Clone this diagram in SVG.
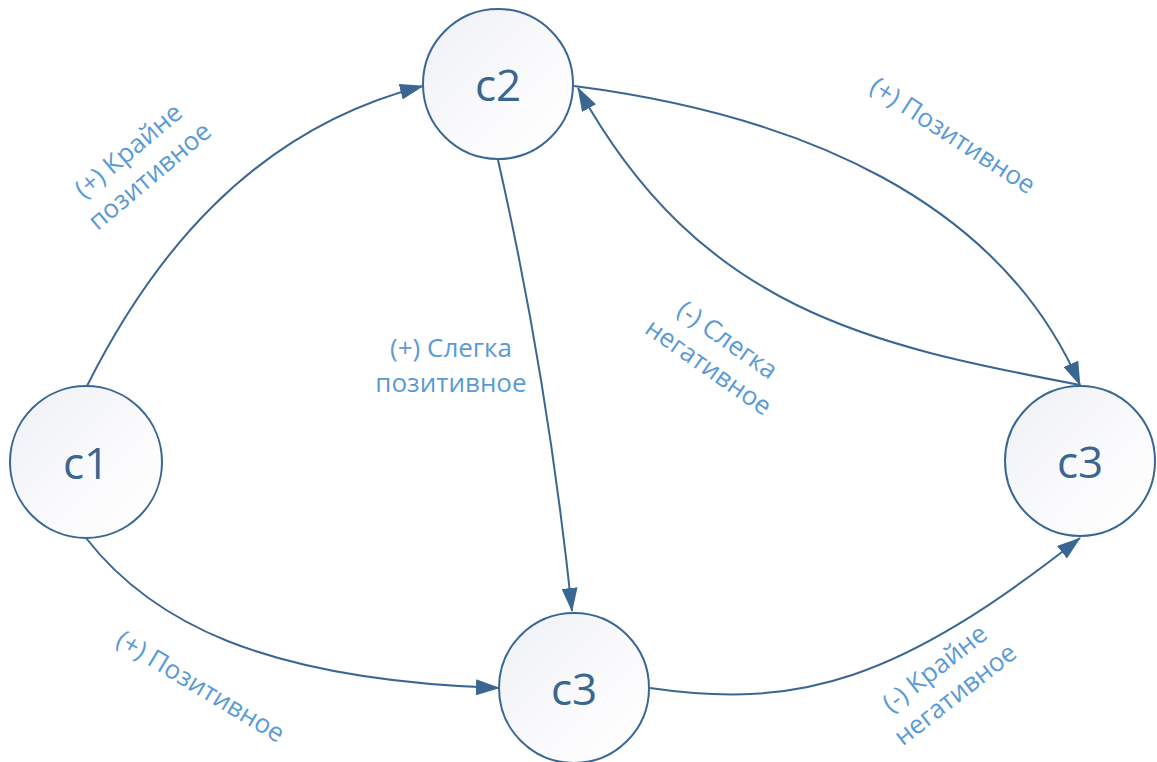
<svg xmlns="http://www.w3.org/2000/svg" width="1157" height="762" viewBox="0 0 1157 762">
  <style>
    .node circle { fill: url(#nodeFill); stroke: #3a6792; stroke-width: 2; }
    .node text { font-family: "Open Sans", "Liberation Sans", sans-serif; font-size: 44px; fill: #3a6792; text-anchor: middle; dominant-baseline: central; }
    .edge { fill: none; stroke: #3a6792; stroke-width: 2; marker-end: url(#arrow); }
    .lbl { font-family: "Open Sans", "Liberation Sans", sans-serif; font-size: 26px; fill: #5b9bd5; text-anchor: middle; }
  </style>
  <defs>
    <linearGradient id="nodeFill" x1="0" y1="0" x2="1" y2="1">
      <stop offset="0" stop-color="#eef0f4"/>
      <stop offset="0.6" stop-color="#fbfbfd"/>
      <stop offset="1" stop-color="#ffffff"/>
    </linearGradient>
    <marker id="arrow" viewBox="0 0 24 16" refX="23" refY="8" markerWidth="24" markerHeight="16" markerUnits="userSpaceOnUse" orient="auto">
      <path d="M0,0 L24,8 L0,16 Z" fill="#3a6792"/>
    </marker>
  </defs>
  <rect width="1157" height="762" fill="#ffffff"/>

  <g id="connectors">
    <path class="edge" d="M87,386 C150,260 250,130 423,86"/>
    <path class="edge" d="M574,86 C800,115 1000,200 1080,385"/>
    <path class="edge" d="M1080,385 C870,345 700,310 578,88"/>
    <path class="edge" d="M498,160 C530,300 555,450 572,611"/>
    <path class="edge" d="M86,538 C150,620 260,680 499,688"/>
    <path class="edge" d="M650,688 C800,710 900,680 1080,538"/>
  </g>

  <g id="labels">
    <g transform="translate(138,162) rotate(-40)">
      <text class="lbl" y="-6">(+) Крайне</text>
      <text class="lbl" y="27">позитивное</text>
    </g>
    <text class="lbl" x="451" y="357">(+) Слегка</text>
    <text class="lbl" x="451" y="392">позитивное</text>
    <g transform="translate(719,352) rotate(35)">
      <text class="lbl" y="-6">(-) Слегка</text>
      <text class="lbl" y="27">негативное</text>
    </g>
    <text class="lbl" transform="translate(948,143) rotate(33)">(+) Позитивное</text>
    <text class="lbl" transform="translate(196,694) rotate(31)">(+) Позитивное</text>
    <g transform="translate(944,680) rotate(-38)">
      <text class="lbl" y="-6">(-) Крайне</text>
      <text class="lbl" y="27">негативное</text>
    </g>
  </g>

  <g id="node-c1" class="node">
    <circle cx="86" cy="462" r="76"/>
    <text x="86" y="462">c1</text>
  </g>
  <g id="node-c2" class="node">
    <circle cx="498" cy="84" r="75"/>
    <text x="498" y="84">c2</text>
  </g>
  <g id="node-c3-bottom" class="node">
    <circle cx="574" cy="688" r="75"/>
    <text x="574" y="688">c3</text>
  </g>
  <g id="node-c3-right" class="node">
    <circle cx="1080" cy="461" r="75"/>
    <text x="1080" y="461">c3</text>
  </g>
</svg>
